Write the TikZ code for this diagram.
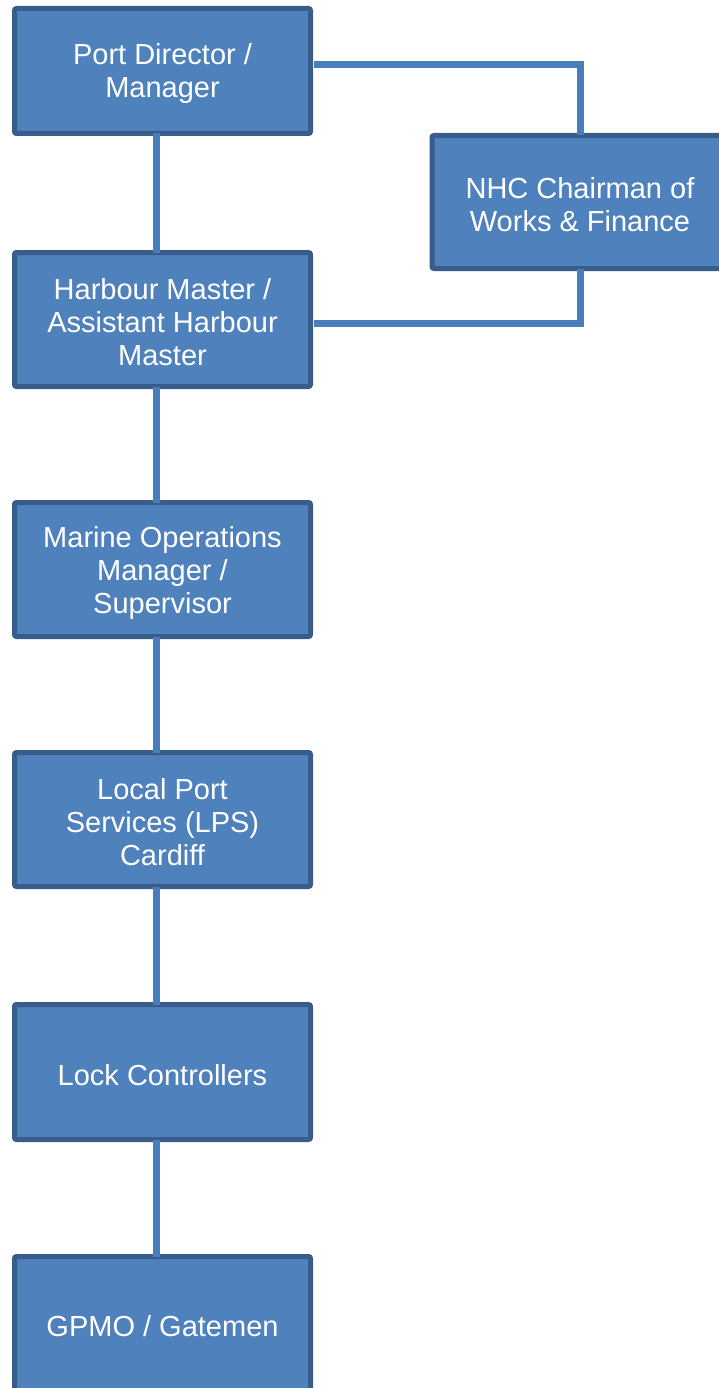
\documentclass[tikz,border=0pt]{standalone}
\usepackage{fontspec}
\setmainfont{Liberation Sans}
\definecolor{boxfill}{HTML}{4F81BD}
\definecolor{boxline}{HTML}{385D8A}
\definecolor{linkcol}{HTML}{4A7EBB}
\begin{document}
\begin{tikzpicture}[x=1pt,y=-1pt,
  orgbox/.style={draw=boxline, fill=boxfill, line width=5pt, rounded corners=2pt,
    minimum width=296pt, outer sep=0pt, inner sep=0pt,
    label={[orgtext]center:#1}},
  orgtext/.style={text=white, align=center, yshift=-3pt, inner sep=0pt,
    font=\fontsize{29}{33}\selectfont},
  link/.style={draw=linkcol, line width=7pt}]
\useasboundingbox (0,0) rectangle (719,1388);
\begin{scope}
\clip (0,0) rectangle (719,1388);
\node[orgbox={Port Director /\\Manager}, minimum height=125pt] (pd) at (162.5,71) {};
\node[orgbox={Harbour Master /\\Assistant Harbour\\Master}, minimum height=134pt] (hm) at (162.5,319.5) {};
\node[orgbox={Marine Operations\\Manager /\\Supervisor}, minimum height=134pt] (mo) at (162.5,569.5) {};
\node[orgbox={Local Port\\Services (LPS)\\Cardiff}, minimum height=134pt] (lps) at (162.5,819.5) {};
\node[orgbox={Lock Controllers}, minimum height=135pt] (lc) at (162.5,1072) {};
\node[orgbox={GPMO / Gatemen}, minimum height=134pt] (gp) at (162.5,1323.5) {};
\node[orgbox={NHC Chairman of\\Works \& Finance}, minimum height=133pt] (nhc) at (580,202) {};
\draw[link] ([xshift=-6pt]pd.south) -- ([xshift=-6pt]hm.north);
\draw[link] ([xshift=-6pt]hm.south) -- ([xshift=-6pt]mo.north);
\draw[link] ([xshift=-6pt]mo.south) -- ([xshift=-6pt]lps.north);
\draw[link] ([xshift=-6pt]lps.south) -- ([xshift=-6pt]lc.north);
\draw[link] ([xshift=-6pt]lc.south) -- ([xshift=-6pt]gp.north);
\draw[link] ([yshift=6pt,xshift=3pt]pd.east) -| (nhc.north);
\draw[link] ([yshift=-3.5pt,xshift=3pt]hm.east) -| (nhc.south);
\end{scope}
\end{tikzpicture}
\end{document}
